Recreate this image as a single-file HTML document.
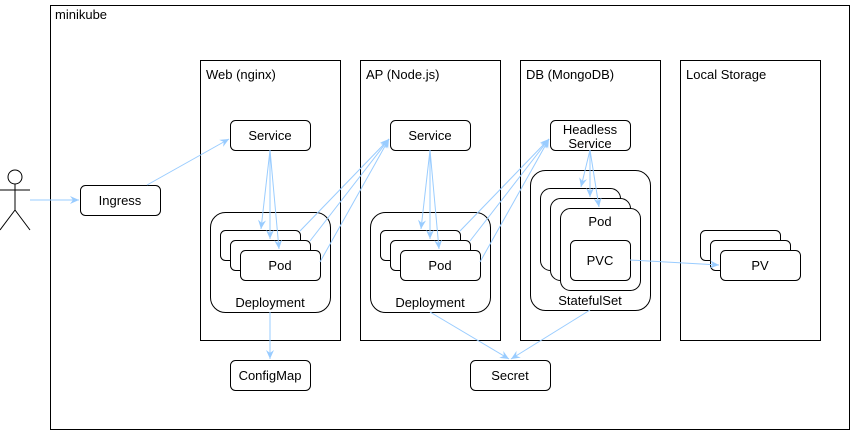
<!DOCTYPE html>
<html><head><meta charset="utf-8"><style>
html,body{margin:0;padding:0;background:#fff;}
svg{display:block;font-family:"Liberation Sans",sans-serif;}
</style></head><body>
<svg width="851" height="431" viewBox="0 0 851 431" xmlns="http://www.w3.org/2000/svg">
<defs><marker id="a" markerWidth="10" markerHeight="10" refX="9" refY="5" orient="auto" markerUnits="userSpaceOnUse"><path d="M0,1 L9,5 L0,9 L3,5 z" fill="#99ccff"/></marker></defs>
<g fill="#fff" stroke="#000" stroke-width="1">
<rect x="50.5" y="5.5" width="799" height="424"/>
<rect x="200.5" y="60.5" width="140" height="280"/>
<rect x="360.5" y="60.5" width="140" height="280"/>
<rect x="520.5" y="60.5" width="140" height="280"/>
<rect x="680.5" y="60.5" width="140" height="280"/>
<rect x="80.5" y="185.5" width="80" height="30" rx="5"/>
<rect x="230.5" y="120.5" width="80" height="30" rx="5"/>
<rect x="390.5" y="120.5" width="80" height="30" rx="5"/>
<rect x="550.5" y="120.5" width="80" height="30" rx="5"/>
<rect x="210.5" y="212.5" width="120" height="100" rx="15"/>
<rect x="370.5" y="212.5" width="120" height="100" rx="15"/>
<rect x="220.5" y="230.5" width="80" height="30" rx="5"/>
<rect x="230.5" y="240.5" width="80" height="30" rx="5"/>
<rect x="240.5" y="250.5" width="80" height="30" rx="5"/>
<rect x="380.5" y="230.5" width="80" height="30" rx="5"/>
<rect x="390.5" y="240.5" width="80" height="30" rx="5"/>
<rect x="400.5" y="250.5" width="80" height="30" rx="5"/>
<rect x="530.5" y="170.5" width="120" height="140" rx="15"/>
<rect x="540.5" y="188.5" width="80" height="82" rx="10"/>
<rect x="550.5" y="198.5" width="80" height="82" rx="10"/>
<rect x="560.5" y="208.5" width="80" height="82" rx="10"/>
<rect x="570.5" y="240.5" width="60" height="40" rx="5"/>
<rect x="700.5" y="230.5" width="80" height="30" rx="5"/>
<rect x="710.5" y="240.5" width="80" height="30" rx="5"/>
<rect x="720.5" y="250.5" width="80" height="30" rx="5"/>
<rect x="230.5" y="360.5" width="80" height="30" rx="5"/>
<rect x="470.5" y="360.5" width="80" height="30" rx="5"/>
<circle cx="15" cy="177" r="7"/>
<path d="M15,184 V210 M0,190 H30 M15,210 L0,230 M15,210 L30,230" fill="none"/>
</g>
<g stroke="#99ccff" stroke-width="1" fill="none" marker-end="url(#a)">
<path d="M30,200 H79"/>
<path d="M147,185 L229,139"/>
<path d="M270,150 L261,229"/><path d="M270,150 L270,239"/><path d="M270,150 L279,249"/>
<path d="M300,231 L389,139"/><path d="M310,241 L389,139"/><path d="M320,262 L389,139"/>
<path d="M430,150 L421,229"/><path d="M430,150 L430,239"/><path d="M430,150 L439,249"/>
<path d="M460,231 L549,139"/><path d="M470,241 L549,139"/><path d="M480,262 L549,139"/>
<path d="M590,150 L581,187"/><path d="M590,150 L590,197"/><path d="M590,150 L599,207"/>
<path d="M630,260 L719,265"/>
<path d="M270,312 V359"/>
<path d="M430,312 L509,359"/>
<path d="M590,310 L511,359"/>
</g>
<g font-size="13" fill="#000">
<text x="55" y="19">minikube</text>
<text x="206" y="79">Web (nginx)</text>
<text x="366" y="79">AP (Node.js)</text>
<text x="526" y="79">DB (MongoDB)</text>
<text x="686" y="79">Local Storage</text>
</g>
<g font-size="13" fill="#000" text-anchor="middle">
<text x="120" y="205">Ingress</text>
<text x="270" y="140">Service</text>
<text x="430" y="140">Service</text>
<text x="590" y="134">Headless</text>
<text x="590" y="148">Service</text>
<text x="280" y="270">Pod</text>
<text x="440" y="270">Pod</text>
<text x="270" y="307">Deployment</text>
<text x="430" y="307">Deployment</text>
<text x="600" y="226">Pod</text>
<text x="600" y="265">PVC</text>
<text x="590" y="305">StatefulSet</text>
<text x="760" y="270">PV</text>
<text x="270" y="380">ConfigMap</text>
<text x="510" y="380">Secret</text>
</g>
</svg>
</body></html>
